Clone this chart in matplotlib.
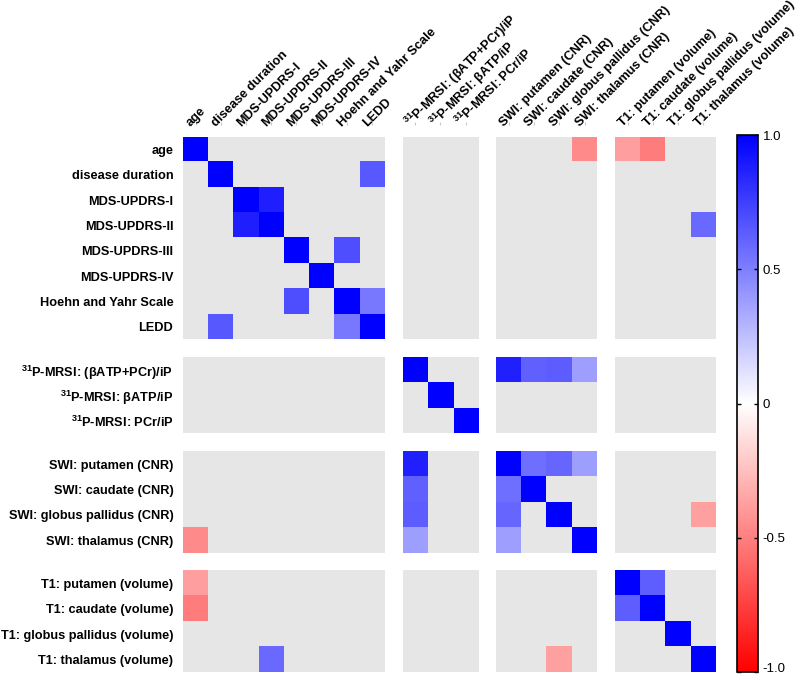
import numpy as np
import matplotlib
matplotlib.use("Agg")
import matplotlib.pyplot as plt
from matplotlib.transforms import ScaledTranslation, blended_transform_factory

plt.rcParams['font.family'] = ['Liberation Sans', 'DejaVu Sans']
plt.rcParams['mathtext.fontset'] = 'custom'
plt.rcParams['mathtext.rm'] = 'Liberation Sans:bold'
plt.rcParams['mathtext.bf'] = 'Liberation Sans:bold'

# variable keys, display labels and group sizes
keys = ['age', 'dur', 'u1', 'u2', 'u3', 'u4', 'hy', 'ledd',
        'p_all', 'p_atp', 'p_pcr',
        'swi_put', 'swi_cau', 'swi_gp', 'swi_thal',
        't1_put', 't1_cau', 't1_gp', 't1_thal']
labels = ['age', 'disease duration', 'MDS-UPDRS-I', 'MDS-UPDRS-II', 'MDS-UPDRS-III',
          'MDS-UPDRS-IV', 'Hoehn and Yahr Scale', 'LEDD',
          r'$^{\mathbf{31}}$P-MRSI: (βATP+PCr)/iP', r'$^{\mathbf{31}}$P-MRSI: βATP/iP',
          r'$^{\mathbf{31}}$P-MRSI: PCr/iP',
          'SWI: putamen (CNR)', 'SWI: caudate (CNR)', 'SWI: globus pallidus (CNR)',
          'SWI: thalamus (CNR)',
          'T1: putamen (volume)', 'T1: caudate (volume)', 'T1: globus pallidus (volume)',
          'T1: thalamus (volume)']
group_sizes = [8, 3, 4, 4]

# significant correlations (off-diagonal, symmetric), others shown grey
pair_a = ['age', 'age', 'age', 'dur', 'u1', 'u2', 'u3', 'hy',
          'p_all', 'p_all', 'p_all', 'p_all',
          'swi_put', 'swi_put', 'swi_put', 'swi_gp', 't1_put']
pair_b = ['swi_thal', 't1_put', 't1_cau', 'ledd', 'u2', 't1_thal', 'hy', 'ledd',
          'swi_put', 'swi_cau', 'swi_gp', 'swi_thal',
          'swi_cau', 'swi_gp', 'swi_thal', 't1_thal', 't1_cau']
pair_r = [-0.46, -0.38, -0.51, 0.65, 0.88, 0.58, 0.69, 0.53,
          0.87, 0.62, 0.64, 0.38,
          0.57, 0.60, 0.38, -0.37, 0.63]

n = len(keys)
mat = np.full((n, n), np.nan)
np.fill_diagonal(mat, 1.0)
for a, b, r in zip(pair_a, pair_b, pair_r):
    i, j = keys.index(a), keys.index(b)
    mat[i, j] = r
    mat[j, i] = r

gap = 0.717
starts = np.cumsum([0] + group_sizes[:-1])
group_of = np.repeat(np.arange(len(group_sizes)), group_sizes)
pos = np.arange(n) + gap * group_of
total = n + gap * (len(group_sizes) - 1)

cmap = plt.get_cmap('bwr_r').with_extremes(bad='#e6e6e6')

fig = plt.figure(figsize=(7.97, 6.77), dpi=100)
ax = fig.add_axes([183 / 797, 1 - 672 / 677, 533 / 797, 535 / 677])

for gi, (si, ni) in enumerate(zip(starts, group_sizes)):
    for gj, (sj, nj) in enumerate(zip(starts, group_sizes)):
        block = np.ma.masked_invalid(mat[si:si + ni, sj:sj + nj])
        x0, y0 = pos[sj], pos[si]
        ax.imshow(block, cmap=cmap, vmin=-1, vmax=1, interpolation='nearest',
                  extent=(x0, x0 + nj, y0 + ni, y0), aspect='auto')

ax.set_xlim(0, total)
ax.set_ylim(total, 0)
for s in ax.spines.values():
    s.set_visible(False)

ax.set_yticks(pos + 0.5)
ax.set_yticklabels(labels, fontsize=9.2, fontweight='bold')
ax.tick_params(axis='y', length=0, pad=7)

ax.set_xticks(pos + 0.5)
ax.set_xticklabels([])
ax.xaxis.tick_top()
ax.spines['top'].set_position(('outward', 9))
ax.tick_params(axis='x', length=2, width=0.8, color='#c8c8c8', top=True, bottom=False)

trans = blended_transform_factory(ax.transData, ax.transAxes) + \
    ScaledTranslation(-5 / 100, 10 / 100, fig.dpi_scale_trans)
for p, lab in zip(pos, labels):
    ax.text(p + 0.5, 1.0, lab, transform=trans, rotation=45, rotation_mode='anchor',
            ha='left', va='baseline', fontsize=9.2, fontweight='bold')

cax = fig.add_axes([737 / 797, 1 - 672 / 677, 21 / 797, 537 / 677])
sm = plt.cm.ScalarMappable(norm=plt.Normalize(-1, 1), cmap=plt.get_cmap('bwr_r'))
cb = fig.colorbar(sm, cax=cax, ticks=[-1, -0.5, 0, 0.5, 1])
cb.ax.set_yticklabels(['-1.0', '-0.5', '0', '0.5', '1.0'], fontsize=9.5)
cb.outline.set_linewidth(1.2)
cax.tick_params(direction='in', left=True, right=True, length=3, width=1, pad=3.5)
# keep the bottom label inside the figure
low = cax.get_yticklabels()[0]
low.set_transform(low.get_transform() + ScaledTranslation(0, 4 / 100, fig.dpi_scale_trans))

fig.savefig('out.png', dpi=100)
